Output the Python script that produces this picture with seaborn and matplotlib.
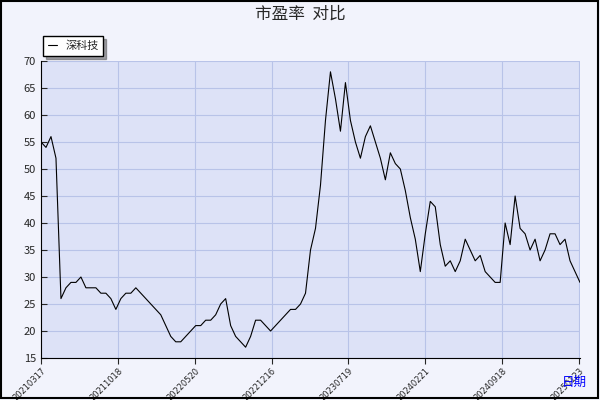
import matplotlib
matplotlib.use("Agg")
import matplotlib.pyplot as plt
import seaborn as sns
import numpy as np

# PE ratio sampled at regular steps across the period
pe_values = [55, 54, 56, 52, 26, 28, 29, 29, 30, 28, 28, 28, 27, 27, 26, 24, 26, 27, 27, 28,
             27, 26, 25, 24, 23, 21, 19, 18, 18, 19, 20, 21, 21, 22, 22, 23, 25, 26, 21, 19,
             18, 17, 19, 22, 22, 21, 20, 21, 22, 23, 24, 24, 25, 27, 35, 39, 47, 59, 68, 63,
             57, 66, 59, 55, 52, 56, 58, 55, 52, 48, 53, 51, 50, 46, 41, 37, 31, 38, 44, 43,
             36, 32, 33, 31, 33, 37, 35, 33, 34, 31, 30, 29, 29, 40, 36, 45, 39, 38, 35, 37,
             33, 35, 38, 38, 36, 37, 33, 31, 29]
date_labels = ["20210317", "20211018", "20220520", "20221216",
               "20230719", "20240221", "20240918", "20250123"]
series_name = "深科技"

idx = np.arange(len(pe_values))
tick_pos = np.arange(len(date_labels)) * 15.4

sns.set_style("whitegrid")
plt.rcParams["font.family"] = "sans-serif"
plt.rcParams["font.sans-serif"] = ["Noto Sans CJK SC", "DejaVu Sans"]

fig = plt.figure(figsize=(6, 4), dpi=100, facecolor="#f2f3fc")
ax = fig.add_axes([41 / 600, 1 - 358 / 400, 539 / 600, 297 / 400])
ax.set_facecolor("#dde2f7")

sns.lineplot(x=idx, y=pe_values, ax=ax, color="black", linewidth=0.8, label=series_name)

ax.set_xlim(0, len(pe_values) - 1)
ax.set_ylim(15, 70)
ax.set_yticks(range(15, 71, 5))
ax.set_xticks(tick_pos)
ax.set_xticklabels(date_labels, rotation=45, ha="right", va="top", rotation_mode="anchor",
                   fontsize=6, fontfamily="DejaVu Sans")
ax.tick_params(axis="y", labelsize=8, length=4, direction="in", left=True)
ax.tick_params(axis="x", length=4, bottom=True, pad=2)
ax.grid(True, color="#b8c3e8", linewidth=0.8)
for s in ["top", "right"]:
    ax.spines[s].set_visible(False)
for s in ["left", "bottom"]:
    ax.spines[s].set_color("black")

fig.suptitle("市盈率  对比", y=0.985, fontsize=12)
ax.legend(loc="lower left", bbox_to_anchor=(0.0, 1.01), frameon=True, fancybox=False,
          shadow=True, fontsize=8, handlelength=0.8, borderaxespad=0.2,
          edgecolor="black", facecolor="white", framealpha=1)
fig.text(0.978, 0.035, "日期", color="blue", fontsize=9, ha="right")

fig.patches.append(plt.Rectangle((0.002, 0.004), 0.994, 0.993, transform=fig.transFigure,
                                 fill=False, edgecolor="black", linewidth=1.5))
fig.savefig("out.png", dpi=100, facecolor=fig.get_facecolor())
